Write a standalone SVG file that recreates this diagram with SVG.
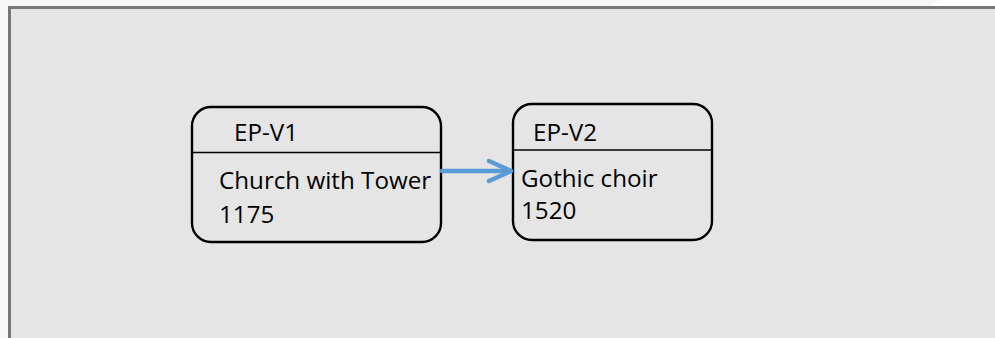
<svg xmlns="http://www.w3.org/2000/svg" width="995" height="338" viewBox="0 0 995 338">
<style>
.box{fill:none;stroke:#000;stroke-width:2.4}
.div{stroke:#000;stroke-width:1.5}
.t{font-family:"Open Sans","Liberation Sans",sans-serif;font-size:24.2px;fill:#000}
.conn{fill:none;stroke:#5b9bd5;stroke-width:4.5;stroke-linecap:round;stroke-linejoin:round}
</style>
<rect x="0" y="0" width="995" height="338" fill="#f7f7f7"/>
<polygon points="940,0 995,0 995,6 930,6" fill="#ffffff"/>
<rect x="9.5" y="7.5" width="990" height="340" fill="#e5e5e5" stroke="#777" stroke-width="3"/>
<g id="node-ep-v1">
<rect class="box" x="192" y="107" width="249" height="135" rx="19"/>
<line class="div" x1="192" y1="152.5" x2="441" y2="152.5"/>
<text class="t" x="234" y="141">EP-V1</text>
<text class="t" x="219" y="189">Church with Tower</text>
<text class="t" x="219" y="223">1175</text>
</g>
<g id="node-ep-v2">
<rect class="box" x="513" y="104" width="199" height="136" rx="19"/>
<line class="div" x1="513" y1="150" x2="712" y2="150"/>
<text class="t" x="533" y="141">EP-V2</text>
<text class="t" x="521" y="187">Gothic choir</text>
<text class="t" x="521" y="219">1520</text>
</g>
<g id="connectors">
<path class="conn" d="M442,171 H510"/>
<path class="conn" d="M489,161 L511,171 L489,181"/>
</g>
</svg>
